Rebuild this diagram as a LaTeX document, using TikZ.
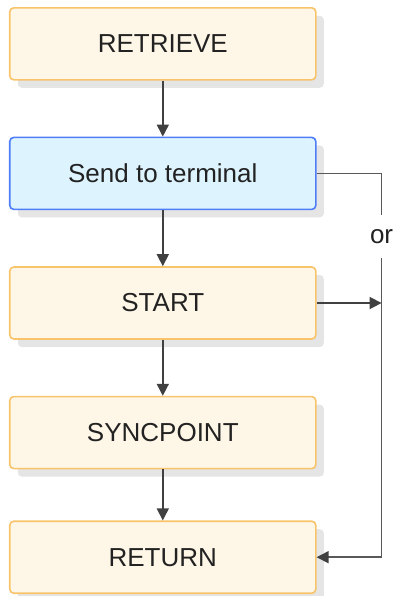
\documentclass[tikz,border=0pt]{standalone}
\usepackage{fontspec}
\setmainfont{Liberation Sans}
\usetikzlibrary{arrows.meta,positioning,calc,shadows}
\definecolor{boxfill}{HTML}{FEF6E6}
\definecolor{boxline}{HTML}{F7C46C}
\definecolor{sendfill}{HTML}{DDF4FF}
\definecolor{sendline}{HTML}{4F7DF7}
\definecolor{txt}{HTML}{222222}

\begin{document}
\begin{tikzpicture}[
  font=\fontsize{13}{15}\selectfont,
  node distance=28pt,
  stepbox/.style={draw=boxline,fill=boxfill,thick,text=txt,rounded corners=2pt,
    minimum width=153pt,minimum height=36pt,
    drop shadow={shadow xshift=4pt,shadow yshift=-4pt,fill=black!10,opacity=1}},
  sendbox/.style={stepbox,draw=sendline,fill=sendfill},
  arr/.style={-{Triangle[length=6pt,width=6pt]},thick,draw=black!75},
  link/.style={thick,draw=black!65}
]
\useasboundingbox (0,0) rectangle (198.5pt,-298pt);
\node[stepbox,anchor=north west] (ret) at (4.5pt,-3.5pt) {RETRIEVE};
\node[sendbox,below=of ret] (send) {Send to terminal};
\node[stepbox,below=of send] (start) {START};
\node[stepbox,below=of start] (sync) {SYNCPOINT};
\node[stepbox,below=25.5pt of sync] (back) {RETURN};
\node[text=txt,inner sep=0pt,minimum height=21pt] (or)
  at ($($(send.east)!0.5!(start.east)$)+(32.5pt,1pt)$) {or};
\draw[arr] (ret)--(send);
\draw[arr] (send)--(start);
\draw[arr] (start)--(sync);
\draw[arr] (sync)--(back);
\draw[link] (send.east)-|(or.north);
\draw[link,-{Triangle[length=6pt,width=6pt,color=black!75]}] (or.south)|-(back.east);
\draw[arr] (start.east)--(start.east-|or.south);
\end{tikzpicture}
\end{document}
